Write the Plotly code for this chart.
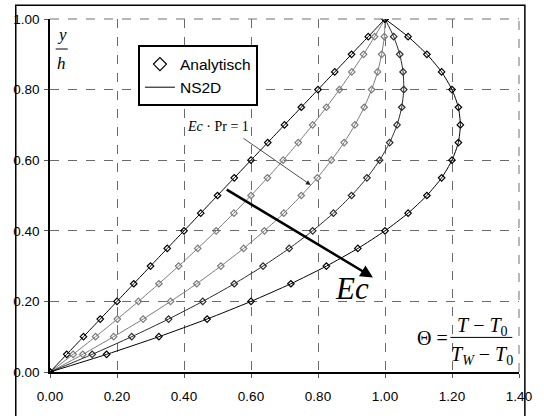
import plotly.graph_objects as go

# y/h positions of the analytical points
eta = [0.00, 0.05, 0.10, 0.15, 0.20, 0.25, 0.30, 0.35, 0.40, 0.45, 0.50,
       0.55, 0.60, 0.65, 0.70, 0.75, 0.80, 0.85, 0.90, 0.95, 1.00]

# Theta values for the five curves (Ec increasing to the right)
theta_0 = [0.000, 0.050, 0.100, 0.150, 0.200, 0.250, 0.300, 0.350, 0.400, 0.450, 0.500,
           0.550, 0.600, 0.650, 0.700, 0.750, 0.800, 0.850, 0.900, 0.950, 1.000]
theta_1 = [0.000, 0.069, 0.136, 0.201, 0.264, 0.325, 0.384, 0.441, 0.496, 0.549, 0.600,
           0.649, 0.696, 0.741, 0.784, 0.825, 0.864, 0.901, 0.936, 0.969, 1.000]
theta_2 = [0.000, 0.098, 0.190, 0.278, 0.360, 0.438, 0.510, 0.578, 0.640, 0.698, 0.750,
           0.798, 0.840, 0.878, 0.910, 0.938, 0.960, 0.978, 0.990, 0.998, 1.000]
theta_3 = [0.000, 0.126, 0.244, 0.354, 0.456, 0.550, 0.636, 0.714, 0.784, 0.846, 0.900,
           0.946, 0.984, 1.014, 1.036, 1.050, 1.056, 1.054, 1.044, 1.026, 1.000]
theta_4 = [0.000, 0.169, 0.325, 0.469, 0.600, 0.719, 0.825, 0.919, 1.000, 1.069, 1.125,
           1.169, 1.200, 1.219, 1.225, 1.219, 1.200, 1.169, 1.125, 1.069, 1.000]

curves = [theta_0, theta_1, theta_2, theta_3, theta_4]
colors = ["#000000", "#7a7a7a", "#7a7a7a", "#2a2a2a", "#000000"]

x_ticks = [0.0, 0.2, 0.4, 0.6, 0.8, 1.0, 1.2, 1.4]
y_ticks = [0.0, 0.2, 0.4, 0.6, 0.8, 1.0]

fig = go.Figure()

for th, c in zip(curves, colors):
    fig.add_trace(go.Scatter(
        x=th, y=eta, mode="lines+markers", showlegend=False,
        line=dict(color=c, width=1, shape="spline", smoothing=0.6),
        marker=dict(symbol="diamond-open", size=5, color=c, line=dict(width=1.2, color=c)),
        hoverinfo="skip"))

# legend entries
fig.add_trace(go.Scatter(x=[None], y=[None], mode="markers", name="Analytisch",
                         marker=dict(symbol="diamond-open", size=10, color="black",
                                     line=dict(width=1.2, color="black"))))
fig.add_trace(go.Scatter(x=[None], y=[None], mode="lines", name="NS2D",
                         line=dict(color="black", width=1)))

serif = "Liberation Serif"
sans = "Liberation Sans"

ann = []
# y/h label
ann.append(dict(x=0.035, y=0.955, xref="x", yref="y", text="<i>y</i>", showarrow=False,
                font=dict(family=serif, size=17, color="black")))
ann.append(dict(x=0.035, y=0.875, xref="x", yref="y", text="<i>h</i>", showarrow=False,
                font=dict(family=serif, size=17, color="black")))
# Ec*Pr = 1 label and thin arrow
ann.append(dict(x=0.50, y=0.695, xref="x", yref="y", text="<i>Ec</i> · Pr = 1", showarrow=False,
                font=dict(family=serif, size=14, color="black")))
ann.append(dict(x=0.778, y=0.530, ax=0.573, ay=0.665, xref="x", yref="y", axref="x", ayref="y",
                text="", showarrow=True, arrowhead=2, arrowsize=1.2, arrowwidth=0.8,
                arrowcolor="#222222"))
# thick Ec arrow
ann.append(dict(x=0.964, y=0.268, ax=0.523, ay=0.519, xref="x", yref="y", axref="x", ayref="y",
                text="", showarrow=True, arrowhead=2, arrowsize=1.0, arrowwidth=2.5,
                arrowcolor="black"))
ann.append(dict(x=0.900, y=0.236, xref="x", yref="y", text="<i>Ec</i>", showarrow=False,
                font=dict(family=serif, size=31, color="black")))
# Theta formula
ann.append(dict(x=1.142, y=0.096, xref="x", yref="y", text="Θ =", showarrow=False,
                font=dict(family=serif, size=20, color="black")))
ann.append(dict(x=1.290, y=0.128, xref="x", yref="y", text="<i>T</i> − <i>T</i><sub>0</sub>",
                showarrow=False, font=dict(family=serif, size=20, color="black")))
ann.append(dict(x=1.290, y=0.046, xref="x", yref="y",
                text="<i>T</i><sub><i>W</i></sub> − <i>T</i><sub>0</sub>",
                showarrow=False, font=dict(family=serif, size=20, color="black")))
fig.update_layout(annotations=ann)

shapes = [
    # fraction bars
    dict(type="line", xref="x", yref="y", x0=0.017, x1=0.053, y0=0.915, y1=0.915,
         line=dict(color="black", width=1)),
    dict(type="line", xref="x", yref="y", x0=1.195, x1=1.380, y0=0.098, y1=0.098,
         line=dict(color="black", width=1)),
    # top/right dashed frame of plot area
    dict(type="line", xref="paper", yref="paper", x0=0, x1=1, y0=1, y1=1,
         line=dict(color="#707070", width=1, dash="dash")),
    dict(type="line", xref="paper", yref="paper", x0=1, x1=1, y0=0, y1=1,
         line=dict(color="#707070", width=1, dash="dash")),
    # outer chart border
    dict(type="rect", xref="paper", yref="paper", x0=-0.073, x1=1.0125, y0=-0.2, y1=1.039,
         line=dict(color="black", width=1.5)),
]
fig.update_layout(shapes=shapes)

axis_common = dict(showgrid=True, gridcolor="#6a6a6a", gridwidth=1, griddash="dash",
                   zeroline=False, showline=True, linecolor="black", linewidth=1.5,
                   ticks="outside", ticklen=4, tickcolor="#555555", tickformat=".2f",
                   tickfont=dict(family=sans, size=13.5, color="black"))

fig.update_xaxes(range=[0, 1.4], tickvals=x_ticks, ticklabelstandoff=7, **axis_common)
fig.update_yaxes(range=[0, 1.0], tickvals=y_ticks, ticklabelstandoff=2, **axis_common)

fig.update_layout(
    width=544, height=416,
    margin=dict(l=50, r=14, t=18, b=39),
    plot_bgcolor="white", paper_bgcolor="white",
    showlegend=True,
    legend=dict(x=0.1875, y=0.925, xanchor="left", yanchor="top",
                bgcolor="white", bordercolor="black", borderwidth=2,
                font=dict(family=sans, size=15.5, color="black"),
                itemwidth=30, tracegroupgap=0),
)

fig.write_html("out.html")
